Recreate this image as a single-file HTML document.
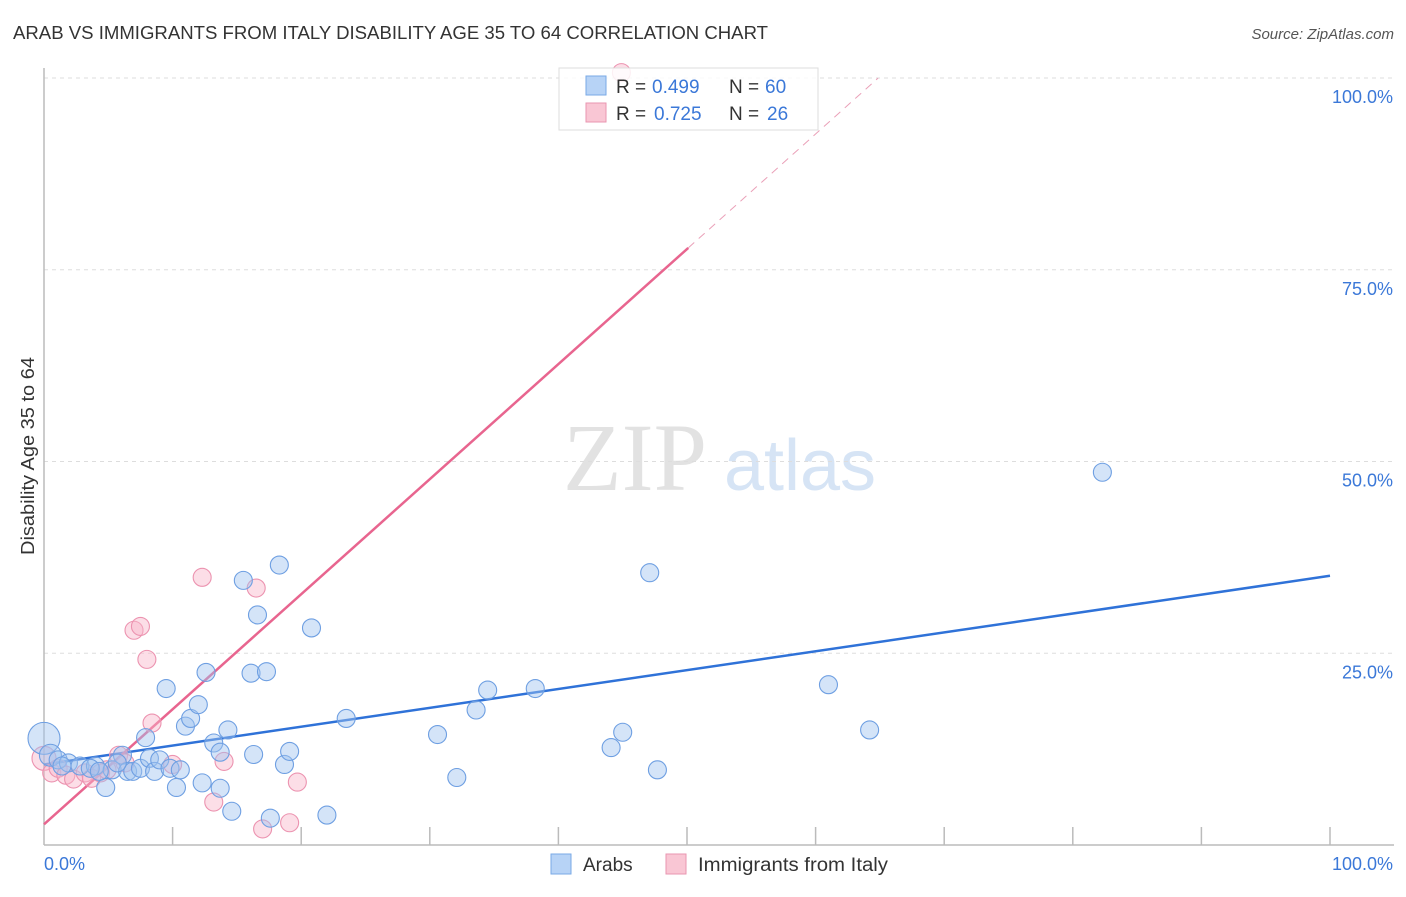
<!DOCTYPE html>
<html><head><meta charset="utf-8"><style>
body{margin:0;background:#fff;font-family:"Liberation Sans",sans-serif;}
</style></head><body>
<svg id="chart" width="1406" height="892" xmlns="http://www.w3.org/2000/svg" font-family="Liberation Sans, sans-serif">
<text x="13" y="39" font-size="18" fill="#333" textLength="755" lengthAdjust="spacingAndGlyphs">ARAB VS IMMIGRANTS FROM ITALY DISABILITY AGE 35 TO 64 CORRELATION CHART</text>
<text x="1394" y="39" font-size="15" fill="#555" text-anchor="end" font-style="italic">Source: ZipAtlas.com</text>
<text transform="translate(34,456) rotate(-90)" font-size="18" fill="#333" text-anchor="middle" textLength="198" lengthAdjust="spacingAndGlyphs">Disability Age 35 to 64</text>
<g>
<text x="635" y="490" font-size="96" fill="#e2e2e2" text-anchor="middle" font-family="Liberation Serif, serif">ZIP</text>
<text x="800" y="490" font-size="72" fill="#d6e4f5" text-anchor="middle">atlas</text>
</g>
<g id="grid"></g>
<g id="axes"></g>
<g id="lines"></g>
<g id="points"></g>
<g>
<rect x="559" y="68" width="259" height="62" fill="#fff" fill-opacity="0.85" stroke="#ddd"/>
<rect x="586" y="76" width="20" height="19" fill="#b7d3f6" stroke="#7aaae6"/>
<text x="616" y="93" font-size="19" fill="#333">R =</text>
<text x="652" y="93" font-size="19" fill="#3b78d8">0.499</text>
<text x="729" y="93" font-size="19" fill="#333">N =</text>
<text x="765" y="93" font-size="19" fill="#3b78d8">60</text>
<rect x="586" y="103" width="20" height="19" fill="#f9c6d4" stroke="#e996b0"/>
<text x="616" y="120" font-size="19" fill="#333">R =</text>
<text x="654" y="120" font-size="19" fill="#3b78d8">0.725</text>
<text x="729" y="120" font-size="19" fill="#333">N =</text>
<text x="767" y="120" font-size="19" fill="#3b78d8">26</text>
</g>
<g>
<rect x="551" y="854" width="20" height="20" fill="#b7d3f6" stroke="#7aaae6"/>
<text x="583" y="871" font-size="19" fill="#333">Arabs</text>
<rect x="666" y="854" width="20" height="20" fill="#f9c6d4" stroke="#e996b0"/>
<text x="698" y="871" font-size="19" fill="#333" textLength="190" lengthAdjust="spacingAndGlyphs">Immigrants from Italy</text>
</g>
</svg>
<script>
const blueX=[0,0.5,1.1,1.9,2.8,4.0,4.8,5.3,6.1,6.5,6.9,7.5,7.9,8.2,8.6,9.0,9.5,9.8,10.3,10.6,11.0,11.4,12.0,12.3,12.6,13.2,13.7,13.7,14.3,14.6,15.5,16.1,16.3,16.6,17.3,17.6,18.3,18.7,19.1,20.8,22.0,23.5,30.6,32.1,33.6,34.5,38.2,44.1,45.0,47.1,47.7,61.0,64.2,82.3,1.4,3.6,4.3,5.7];
const blueY=[13.9,11.7,11.1,10.7,10.3,10.3,7.5,9.8,11.7,9.6,9.6,10.0,14.0,11.3,9.6,11.1,20.4,10.0,7.5,9.8,15.5,16.5,18.3,8.1,22.5,13.3,12.1,7.4,15.0,4.4,34.5,22.4,11.8,30.0,22.6,3.5,36.5,10.5,12.2,28.3,3.9,16.5,14.4,8.8,17.6,20.2,20.4,12.7,14.7,35.5,9.8,20.9,15.0,48.6,10.3,10.0,9.6,10.7];
const pinkX=[0,0.6,1.1,1.7,2.3,3.2,3.7,4.4,4.9,5.8,6.3,7.0,7.5,8.0,8.4,10.0,12.3,13.2,14.0,16.5,17.0,19.1,19.7,44.9];
const pinkY=[11.3,9.4,10.0,9.1,8.6,9.4,8.7,9.4,9.8,11.7,10.7,28.0,28.5,24.2,15.9,10.5,34.9,5.6,10.9,33.5,2.1,2.9,8.2,100.7];
const blueLine=[10.5,35.1];   // y at x=0 and x=100
const pinkLine=[2.7,1.5];     // intercept, slope
const pinkSolidEnd=50.1;
const yTicks=[25,50,75,100];
const yTickLabels=["25.0%","50.0%","75.0%","100.0%"];

const NS="http://www.w3.org/2000/svg";
const X=v=>44+v*12.86, Y=v=>845-v*7.67;
function mk(tag,attrs,parent){const e=document.createElementNS(NS,tag);for(const k in attrs)e.setAttribute(k,attrs[k]);document.getElementById(parent).appendChild(e);return e;}

yTicks.forEach((t,i)=>{
  const l=mk('line',{x1:44,x2:1394,y1:Y(t),y2:Y(t),stroke:'#ddd','stroke-dasharray':'4,4'},'grid');
  
  
  const tx=mk('text',{x:1393,y:Y(t)+25,'font-size':18,fill:'#3b78d8','text-anchor':'end'},'grid');
  tx.textContent=yTickLabels[i];
  
  
});
let a=mk('line',{x1:44,x2:44,y1:68,y2:845,stroke:'#bbb','stroke-width':1.5},'axes');


a=mk('line',{x1:44,x2:1394,y1:845,y2:845,stroke:'#bbb','stroke-width':1.5},'axes');


for(let i=1;i<=10;i++){
  const t=mk('line',{x1:X(i*10),x2:X(i*10),y1:827,y2:845,stroke:'#bbb','stroke-width':1.5},'axes');
  
  
}
let t0=mk('text',{x:44,y:870,'font-size':18,fill:'#3b78d8'},'axes');t0.textContent='0.0%';


let t1=mk('text',{x:1393,y:870,'font-size':18,fill:'#3b78d8','text-anchor':'end'},'axes');t1.textContent='100.0%';



pinkX.forEach((x,i)=>{
  const c=mk('circle',{cx:X(x),cy:Y(pinkY[i]),r:i===0?12:9,fill:'rgba(248,182,202,0.45)',stroke:'#ec93b0','stroke-width':1.1},'points');
  
  
});
blueX.forEach((x,i)=>{
  const c=mk('circle',{cx:X(x),cy:Y(blueY[i]),r:i===0?16:(x<1?11:9),fill:'rgba(160,196,240,0.45)',stroke:'#6e9fe2','stroke-width':1.1},'points');
  
  
});
let bl=mk('line',{x1:X(0),y1:Y(blueLine[0]),x2:X(100),y2:Y(blueLine[1]),stroke:'#2f72d8','stroke-width':2.5},'lines');


const xEnd=(100-pinkLine[0])/pinkLine[1];
let pl=mk('line',{x1:X(0),y1:Y(pinkLine[0]),x2:X(pinkSolidEnd),y2:Y(pinkLine[0]+pinkLine[1]*pinkSolidEnd),stroke:'#e8658f','stroke-width':2.5},'lines');


let pd=mk('line',{x1:X(pinkSolidEnd),y1:Y(pinkLine[0]+pinkLine[1]*pinkSolidEnd),x2:X(xEnd),y2:Y(100),stroke:'#eaa0b8','stroke-width':1,'stroke-dasharray':'8,6'},'lines');


</script>
</body></html>
